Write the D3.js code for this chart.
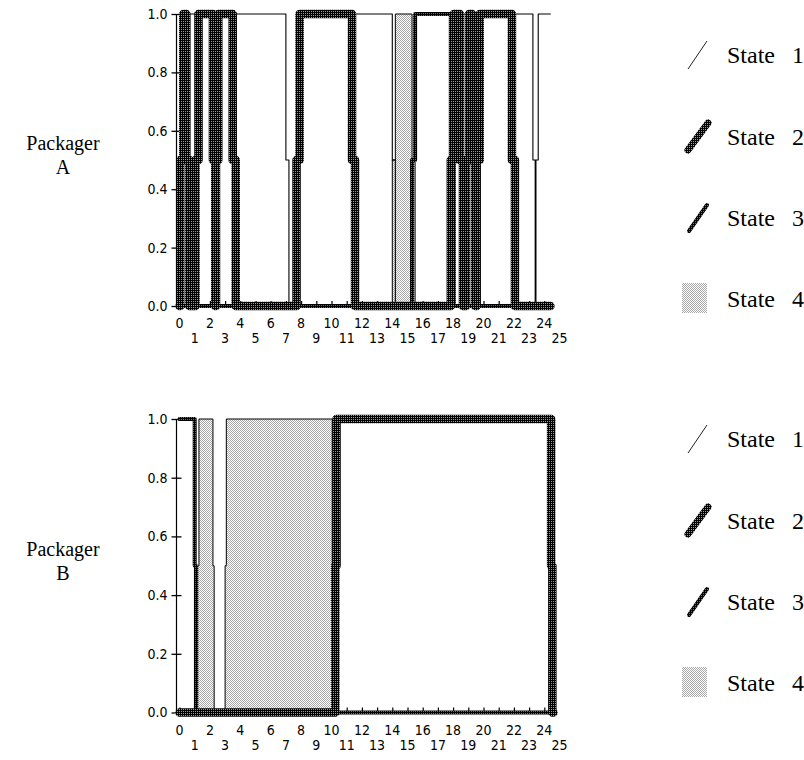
<!DOCTYPE html>
<html><head><meta charset="utf-8">
<script src="https://cdn.jsdelivr.net/npm/d3@7/dist/d3.min.js"></script>
<style>body{margin:0;background:#fff}svg{display:block}</style>
</head><body>
<svg id="chart" width="804" height="760"></svg>
<script>
// ---------- DATA ----------
const stateNames = ["State 1", "State 2", "State 3", "State 4"];
// Packager A: state entered at each start time (hours); 0 = no state shown
const timesA  = [0, 0.05, 0.45, 1.05, 2.2, 2.35, 3.5, 7.0, 7.7, 11.35, 14.0, 15.3, 17.85, 18.45, 18.85, 19.25, 19.55, 21.87, 23.25, 23.4];
const statesA = [0, 2,    1,    2,    1,   2,    1,   0,   2,   1,     4,    3,    2,     1,     2,     1,     2,     1,     0,     1];
const endA = 24.4;
// Packager B
const timesB  = [0, 1.0, 1.2, 2.2, 3.0, 10.05, 10.25, 24.45];
const statesB = [3, 0,   4,   0,   4,   0,     2,     0];
const endB = 24.6;
const xTickValues = d3.range(0, 26);
const yTickValues = [0, 0.2, 0.4, 0.6, 0.8, 1.0];
const panelNames = ["A", "B"];

// ---------- SETUP ----------
const svg = d3.select("#chart");
const defs = svg.append("defs");
function pattern(id, bg, dots, fg) {
  const p = defs.append("pattern").attr("id", id).attr("patternUnits", "userSpaceOnUse")
    .attr("width", 2).attr("height", 2);
  p.append("rect").attr("width", 2).attr("height", 2).attr("fill", bg);
  dots.forEach(([dx, dy]) => p.append("rect").attr("x", dx).attr("y", dy).attr("width", 1).attr("height", 1).attr("fill", fg));
}
pattern("p2", "#000", [[1, 1]], "#9a9a9a");
pattern("p3", "#000", [[1, 1]], "#6a6a6a");
pattern("p4", "#ffffff", [[0, 0], [1, 1]], "#a8a8a8");

const x = d3.scaleLinear().domain([0, 25]).range([179.5, 179.5 + 25 * 15.2]);
const eps = 0.2;

function series(times, states, end, k, e) {
  const v = s => (s === k ? 1 : 0);
  const pts = [[times[0], v(states[0])]];
  for (let i = 1; i < times.length; i++) {
    const a = v(states[i - 1]), b = v(states[i]);
    if (a !== b) {
      const t = times[i];
      pts.push([t, a], [t, 0.5], [t + e, 0.5], [t + e, b]);
    }
  }
  pts.push([end, v(states[states.length - 1])]);
  return pts;
}

const styles = {
  1: {stroke: "#000", width: 1.1},
  2: {stroke: "url(#p2)", width: 8.5},
  3: {stroke: "url(#p3)", width: 4},
  4: {stroke: "#000", width: 1}
};

function panel(times, states, end, y0, y1, name, e, legendTop) {
  const y = d3.scaleLinear().domain([0, 1]).range([y0, y1]);
  const g = svg.append("g");
  const axX0 = x(0) - 3;
  // axes
  g.append("line").attr("x1", axX0).attr("x2", axX0).attr("y1", y(0)).attr("y2", y(1))
    .attr("stroke", "#000").attr("stroke-width", 1.2);
  g.append("line").attr("x1", axX0).attr("x2", x(end)).attr("y1", y(0)).attr("y2", y(0))
    .attr("stroke", "#000").attr("stroke-width", 1.5);
  const yAx = g.append("g").attr("transform", `translate(${axX0},0)`)
    .call(d3.axisLeft(y).tickValues(yTickValues).tickFormat(d3.format(".1f")).tickSize(5).tickPadding(4).tickSizeOuter(0));
  yAx.select(".domain").remove();
  yAx.selectAll(".tick line").attr("x1", -5).attr("x2", 5).attr("stroke-width", 1.3);
  yAx.selectAll("text").attr("font-family", "'Liberation Sans Narrow','DejaVu Sans Condensed','Liberation Sans',sans-serif")
    .attr("font-size", 14).attr("fill", "#000");
  const xAx = g.append("g").attr("transform", `translate(0,${y(0)})`)
    .call(d3.axisBottom(x).tickValues(xTickValues.filter(d => d <= end)).tickFormat(() => "").tickSize(-5).tickSizeOuter(0));
  xAx.select(".domain").remove();
  xAx.selectAll(".tick line").attr("stroke-width", 1.2);
  g.selectAll(".xl").data(xTickValues).join("text")
    .attr("x", d => x(d)).attr("y", d => y(0) + (d % 2 === 0 ? 22 : 37))
    .attr("text-anchor", "middle")
    .attr("font-family", "'Liberation Sans Narrow','DejaVu Sans Condensed','Liberation Sans',sans-serif")
    .attr("font-size", 14).text(d => d);

  const line = d3.line().x(d => x(d[0])).y(d => y(d[1]));
  const area = d3.area().x(d => x(d[0])).y0(y(0)).y1(d => y(d[1]));
  // state 4 area
  const s4 = series(times, states, end, 4, e);
  g.append("path").attr("d", area(s4)).attr("fill", "url(#p4)");
  [4, 1, 3, 2].forEach(k => {
    const s = series(times, states, end, k, e);
    g.append("path").attr("d", line(s)).attr("fill", "none")
      .attr("stroke", styles[k].stroke).attr("stroke-width", styles[k].width)
      .attr("stroke-linejoin", "round").attr("stroke-linecap", "round");
  });

  // packager label (two separate lines)
  const font = "'Liberation Serif','Times New Roman',serif";
  g.append("text").attr("text-anchor", "middle").attr("font-family", font).attr("font-size", 20)
    .attr("x", 63).attr("y", y(0.5) - 10).text("Packager");
  g.append("text").attr("text-anchor", "middle").attr("font-family", font).attr("font-size", 20)
    .attr("x", 63).attr("y", y(0.5) + 14).text(name);

  // legend
  const L = g.append("g").attr("transform", `translate(0,${legendTop})`);
  const rows = [55, 137, 218, 299];
  L.append("line").attr("x1", 688).attr("y1", 69).attr("x2", 707).attr("y2", 41)
    .attr("stroke", "#222").attr("stroke-width", 1);
  L.append("line").attr("x1", 688).attr("y1", 150).attr("x2", 708).attr("y2", 123)
    .attr("stroke", "url(#p2)").attr("stroke-width", 7).attr("stroke-linecap", "round");
  L.append("line").attr("x1", 689).attr("y1", 231).attr("x2", 707).attr("y2", 205)
    .attr("stroke", "url(#p3)").attr("stroke-width", 4).attr("stroke-linecap", "round");
  L.append("rect").attr("x", 682).attr("y", 283).attr("width", 25).attr("height", 30).attr("fill", "url(#p4)");
  stateNames.forEach((s, i) => {
    const parts = s.split(" ");
    L.append("text").attr("x", 727).attr("y", rows[i] + 8)
      .attr("font-family", font).attr("font-size", 24).text(parts[0]);
    L.append("text").attr("x", 792).attr("y", rows[i] + 8)
      .attr("font-family", font).attr("font-size", 24).text(parts[1]);
  });
}

panel(timesA, statesA, endA, 306, 14, panelNames[0], eps, 0);
panel(timesB, statesB, endB, 712.5, 419, panelNames[1], 0.08, 384);
</script>
</body></html>
